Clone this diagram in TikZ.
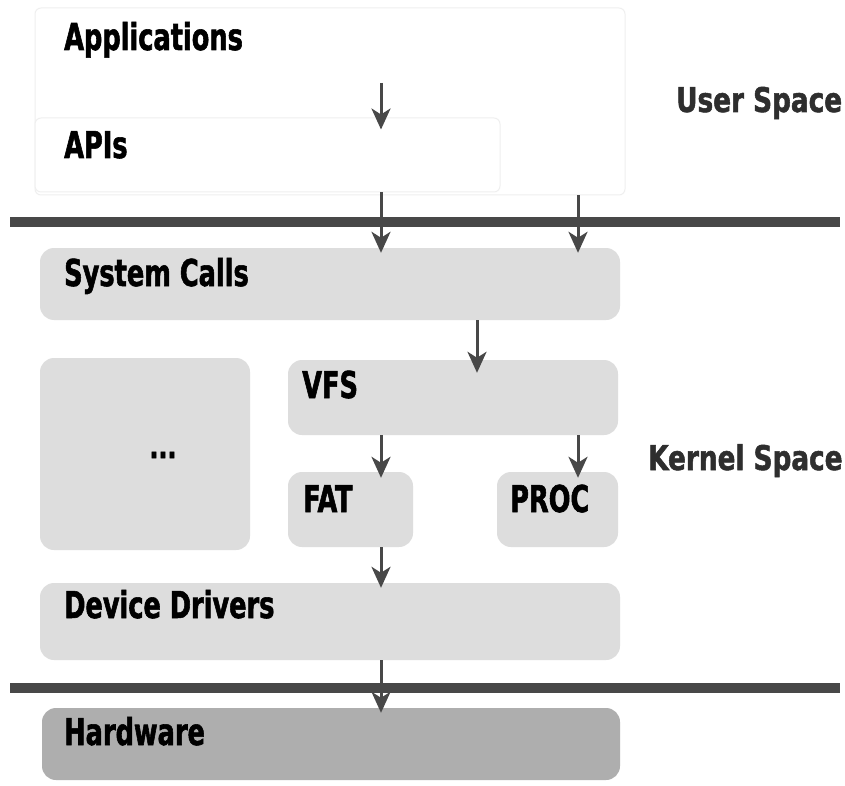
\documentclass[tikz,border=0pt]{standalone}
\usepackage{fontspec}
\setmainfont{DejaVu Sans Condensed}
\newfontfamily\lblfont{DejaVu Sans Condensed Bold}[FakeStretch=0.77,FakeBold=1.5]
\newfontfamily\sidefont{DejaVu Sans Condensed Bold}[FakeStretch=0.86,FakeBold=1.5]
\usetikzlibrary{arrows.meta}
\definecolor{boxgray}{HTML}{DDDDDD}
\definecolor{hwgray}{HTML}{AEAEAE}
\definecolor{linegray}{HTML}{484848}
\definecolor{sidegray}{HTML}{2E2E2E}
\definecolor{faint}{HTML}{EFEFEF}
\begin{document}
\begin{tikzpicture}[x=1pt,y=-1pt,
  layer/.style={rounded corners=14pt, fill=boxgray, draw=none, inner sep=0pt},
  userbox/.style={rounded corners=6pt, fill=white, draw=faint, line width=1pt, inner sep=0pt},
  lbl/.style={font=\lblfont\fontsize{37}{37}\selectfont, text=black, anchor=base west, inner sep=0pt},
  side/.style={font=\sidefont\fontsize{34}{34}\selectfont, text=sidegray, anchor=base west, inner sep=0pt},
  arr/.style={draw=linegray, line width=3pt, -{Stealth[length=21pt,width=19pt,inset=6pt]}},
  sep/.style={draw=linegray, line width=10pt}]
\path[fill=white] (0,0) rectangle (845,786);
\useasboundingbox (0,0) rectangle (845,786);
% user space
\node[userbox, minimum width=590pt, minimum height=187pt] (apps) at (330,101.5) {};
\node[userbox, minimum width=465pt, minimum height=74pt] (apis) at (267.5,155) {};
\coordinate (appsline) at (381,83);
\node[lbl] (tapps) at (64,50) {Applications};
\node[lbl] (tapis) at (64,158) {APIs};
% separators
\coordinate (s1a) at (10,222); \coordinate (s1b) at (840,222);
\coordinate (s2a) at (10,688); \coordinate (s2b) at (840,688);
\draw[sep] (s1a) -- (s1b);
\draw[sep] (s2a) -- (s2b);
% kernel
\node[layer, minimum width=580pt, minimum height=72pt] (sys) at (330,284) {};
\node[lbl] (tsys) at (64,286) {System Calls};
\node[layer, minimum width=210pt, minimum height=192pt] (etc) at (145,454) {};
\node[font=\lblfont\fontsize{34}{34}\selectfont, inner sep=0pt] (tetc) at (163,455) {...};
\node[layer, minimum width=330pt, minimum height=75pt] (vfs) at (453,397.5) {};
\node[lbl] (tvfs) at (302,398) {VFS};
\node[layer, minimum width=125pt, minimum height=75pt] (fat) at (350.5,509.5) {};
\node[lbl] (tfat) at (303,512) {FAT};
\node[layer, minimum width=121pt, minimum height=75pt] (proc) at (557.5,509.5) {};
\node[lbl] (tproc) at (510,512) {PROC};
\node[layer, minimum width=580pt, minimum height=77pt] (dd) at (330,621.5) {};
\node[lbl] (tdd) at (64,618) {Device Drivers};
\node[layer, minimum width=578pt, minimum height=72pt, fill=hwgray] (hw) at (331,744) {};
\node[lbl] (thw) at (64,745) {Hardware};
% side labels
\node[side] (us) at (676,112) {User Space};
\node[side] (ks) at (648,470) {Kernel Space};
% arrows
\coordinate (cL) at (381,0);
\coordinate (cM) at (477,0);
\coordinate (cR) at (578,0);
\draw[arr] (appsline) -- ([yshift=-12pt]apis.north -| cL);
\draw[arr] (apis.south -| cL) -- ([yshift=-5pt]sys.north -| cL);
\draw[arr] (apps.south -| cR) -- ([yshift=-5pt]sys.north -| cR);
\draw[arr] (sys.south -| cM) -- ([yshift=-13pt]vfs.north -| cM);
\draw[arr] (vfs.south -| cL) -- ([yshift=-6pt]fat.north -| cL);
\draw[arr] (vfs.south -| cR) -- ([yshift=-6pt]proc.north -| cR);
\draw[arr] (fat.south -| cL) -- ([yshift=-5pt]dd.north -| cL);
\draw[arr] (dd.south -| cL) -- ([yshift=-5pt]hw.north -| cL);
\end{tikzpicture}
\end{document}
